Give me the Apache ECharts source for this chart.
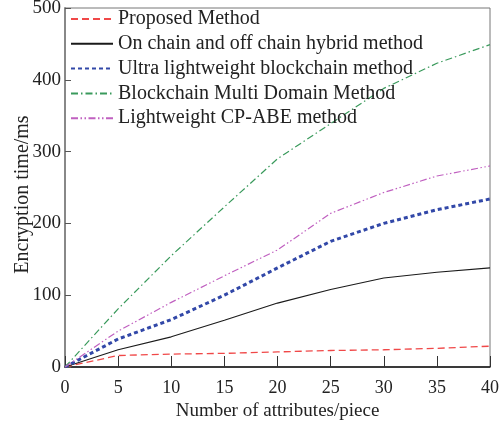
<!DOCTYPE html>
<html>
<head>
<meta charset="utf-8">
<script src="https://cdn.jsdelivr.net/npm/echarts@6/dist/echarts.min.js"></script>
<style>html,body{margin:0;padding:0;background:#fff}#c{width:499px;height:421px}</style>
</head>
<body>
<div id="c"></div>
<script>
var categories = [0, 5, 10, 15, 20, 25, 30, 35, 40];
var proposed = [0, 16, 18, 19, 21, 23, 24, 26, 29];
var hybrid = [0, 24, 42, 65, 89, 108, 124, 132, 138];
var ultra = [0, 39, 66, 100, 138, 175, 200, 219, 234];
var multiDomain = [0, 81, 155, 223, 290, 339, 388, 423, 449];
var cpabe = [0, 50, 90, 127, 163, 214, 243, 266, 280];
var seriesNames = ['Proposed Method', 'On chain and off chain hybrid method', 'Ultra lightweight blockchain method', 'Blockchain Multi Domain Method', 'Lightweight CP-ABE method'];

var font = 'Liberation Serif';
function pairs(arr) { return arr.map(function (v, i) { return [categories[i], v]; }); }
function mk(name, data, color, width, type) {
  return { name: name, type: 'line', data: pairs(data), symbol: 'none', smooth: false,
    lineStyle: { color: color, width: width, type: type }, itemStyle: { color: color } };
}
var chart = echarts.init(document.getElementById('c'));
chart.setOption({
  animation: false,
  backgroundColor: '#fff',
  grid: { left: 65, right: 9, top: 8, bottom: 54, show: true, borderColor: '#777', borderWidth: 1,
    containLabel: false, outerBoundsMode: 'none' },
  legend: {
    orient: 'vertical', left: 65, top: 4, itemWidth: 42, itemHeight: 4, itemGap: 4.8,
    itemStyle: { opacity: 0 },
    textStyle: { fontFamily: font, fontSize: 20, color: '#222' },
    data: seriesNames
  },
  xAxis: {
    type: 'value', min: 0, max: 40, interval: 5,
    name: 'Number of attributes/piece', nameLocation: 'middle', nameGap: 35,
    nameTextStyle: { fontFamily: font, fontSize: 19, color: '#222' },
    axisLine: { lineStyle: { color: '#111', width: 1.5 } },
    axisTick: { inside: true, length: 11, lineStyle: { color: '#333' } },
    axisLabel: { fontFamily: font, fontSize: 18, color: '#222', margin: 12 },
    splitLine: { show: false }
  },
  yAxis: {
    type: 'value', min: 0, max: 500, interval: 100,
    name: 'Encryption time/ms', nameLocation: 'middle', nameGap: 32, nameMoveOverlap: false,
    nameTextStyle: { fontFamily: font, fontSize: 20, color: '#222', padding: [0, 14, 0, 0] },
    axisLine: { show: true, lineStyle: { color: '#888', width: 2 } },
    axisTick: { show: true, inside: true, length: 6, lineStyle: { color: '#555' } },
    axisLabel: { fontFamily: font, fontSize: 19, color: '#222', margin: 4 },
    splitLine: { show: false }
  },
  series: [
    mk(seriesNames[0], proposed, '#f04848', 1.3, [7, 4]),
    mk(seriesNames[1], hybrid, '#1a1a1a', 1.1, 'solid'),
    mk(seriesNames[2], ultra, '#3248a8', 3, [4, 3]),
    mk(seriesNames[3], multiDomain, '#3a9a5c', 1.2, [7, 3, 1.5, 3]),
    mk(seriesNames[4], cpabe, '#c060c0', 1.2, [7, 2.5, 1.5, 2.5, 1.5, 2.5])
  ]
});
</script>
</body>
</html>
